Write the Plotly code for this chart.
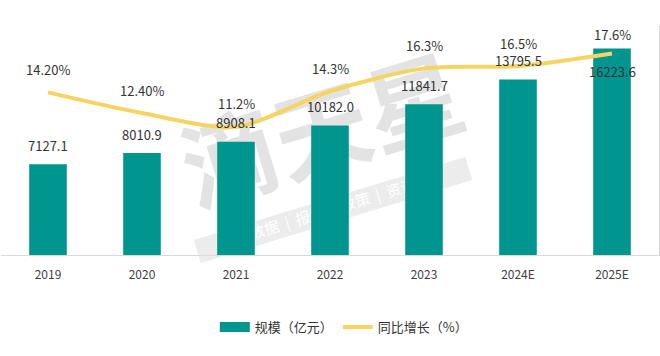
import math
import plotly.graph_objects as go

categories = ["2019", "2020", "2021", "2022", "2023", "2024E", "2025E"]
scale_values = [7127.1, 8010.9, 8908.1, 10182.0, 11841.7, 13795.5, 16223.6]
growth_values = [14.2, 12.4, 11.2, 14.3, 16.3, 16.5, 17.6]
growth_labels = ["14.20%", "12.40%", "11.2%", "14.3%", "16.3%", "16.5%", "17.6%"]
scale_labels = ["7127.1", "8010.9", "8908.1", "10182.0", "11841.7", "13795.5", "16223.6"]

FONT = "Noto Sans CJK SC"
TEXT = "#333333"
BAR = "#00968F"
LINE = "#F6D462"

W, H = 660, 356
ML, MR, MT, MB = 1, 1, 26, 101
PW, PH = W - ML - MR, H - MT - MB


def to_paper(px, py):
    return (px - ML) / PW, (H - MB - py) / PH


fig = go.Figure()
fig.add_trace(go.Bar(
    x=categories, y=scale_values, name="规模（亿元）", showlegend=False,
    marker=dict(color=BAR, line=dict(width=0)), width=0.4, yaxis="y",
))
# legend proxy for the bar (wide rectangle)
fig.add_trace(go.Scatter(
    x=[None], y=[None], name="规模（亿元）", mode="lines",
    line=dict(color=BAR, width=10), yaxis="y",
))
fig.add_trace(go.Scatter(
    x=categories, y=growth_values, name="同比增长（%）", mode="lines",
    line=dict(color=LINE, width=4, shape="spline", smoothing=0.8), yaxis="y2",
))

# ---- watermark (drawn below the traces) ----
ang = 17.0
ca, sa = math.cos(math.radians(ang)), math.sin(math.radians(ang))
shapes = []
# main characters
cx, cy = 325, 140
x0p, y0p = to_paper(cx - 170, cy + 65)
x1p, y1p = to_paper(cx + 170, cy - 65)
shapes.append(dict(type="rect", xref="paper", yref="paper", x0=x0p, x1=x1p, y0=y0p, y1=y1p,
                   line=dict(width=0), fillcolor="rgba(0,0,0,0)", layer="below",
                   label=dict(text="<b>滴天星</b>", textangle=-ang, textposition="middle center",
                              font=dict(family=FONT, size=96, color="#E3E3E3"))))
# band with sub text
bx, by, half_len, half_th = 333, 210, 142, 12
ux, uy = ca, -sa
nx, ny = sa, ca
corners = [
    (bx - half_len * ux - half_th * nx, by - half_len * uy - half_th * ny),
    (bx + half_len * ux - half_th * nx, by + half_len * uy - half_th * ny),
    (bx + half_len * ux + half_th * nx, by + half_len * uy + half_th * ny),
    (bx - half_len * ux + half_th * nx, by - half_len * uy + half_th * ny),
]
pts = [to_paper(px, py) for px, py in corners]
path = "M " + " L ".join(f"{px:.4f},{py:.4f}" for px, py in pts) + " Z"
shapes.append(dict(type="path", xref="paper", yref="paper", path=path,
                   line=dict(width=0), fillcolor="#ECECEC", layer="below",
                   label=dict(text="数据  |  报告  |  政策  |  资讯", textangle=-ang,
                              textposition="middle center",
                              font=dict(family=FONT, size=15, color="#FFFFFF"))))

annotations = []
n = len(categories)
for i, (v, lab) in enumerate(zip(scale_values, scale_labels)):
    shift = -23 if i == n - 1 else 19
    annotations.append(dict(x=i, y=v, xref="x", yref="y", text=lab, showarrow=False,
                            yshift=shift, yanchor="middle",
                            font=dict(family=FONT, size=13, color=TEXT)))
for i, (v, lab) in enumerate(zip(growth_values, growth_labels)):
    shift = 19 if i == n - 1 else 23
    annotations.append(dict(x=i, y=v, xref="x", yref="y2", text=lab, showarrow=False,
                            yshift=shift, yanchor="middle",
                            font=dict(family=FONT, size=13, color=TEXT)))

fig.update_layout(
    width=W, height=H,
    margin=dict(l=ML, r=MR, t=MT, b=MB),
    paper_bgcolor="white", plot_bgcolor="white",
    font=dict(family=FONT, size=13, color=TEXT),
    xaxis=dict(type="category", range=[-0.5, n - 0.5], showline=True, linecolor="#D9D9D9",
               linewidth=1, showgrid=False,
               ticks="outside", ticklen=9, tickcolor="rgba(0,0,0,0)",
               tickfont=dict(family=FONT, size=12, color="#404040")),
    yaxis=dict(range=[0, 18000], visible=False, showgrid=False),
    yaxis2=dict(range=[0, 20], overlaying="y", side="right", showgrid=False,
                showticklabels=False, ticks="", showline=True, linecolor="#D9D9D9",
                zeroline=False),
    legend=dict(orientation="h", x=0.521, xanchor="center", y=-0.315, yanchor="middle",
                font=dict(family=FONT, size=13, color=TEXT)),
    annotations=annotations,
    shapes=shapes,
    showlegend=True,
)

fig.write_html("out.html", config={"displayModeBar": False},
               post_script="document.body.style.margin='0';document.body.style.padding='0';")
